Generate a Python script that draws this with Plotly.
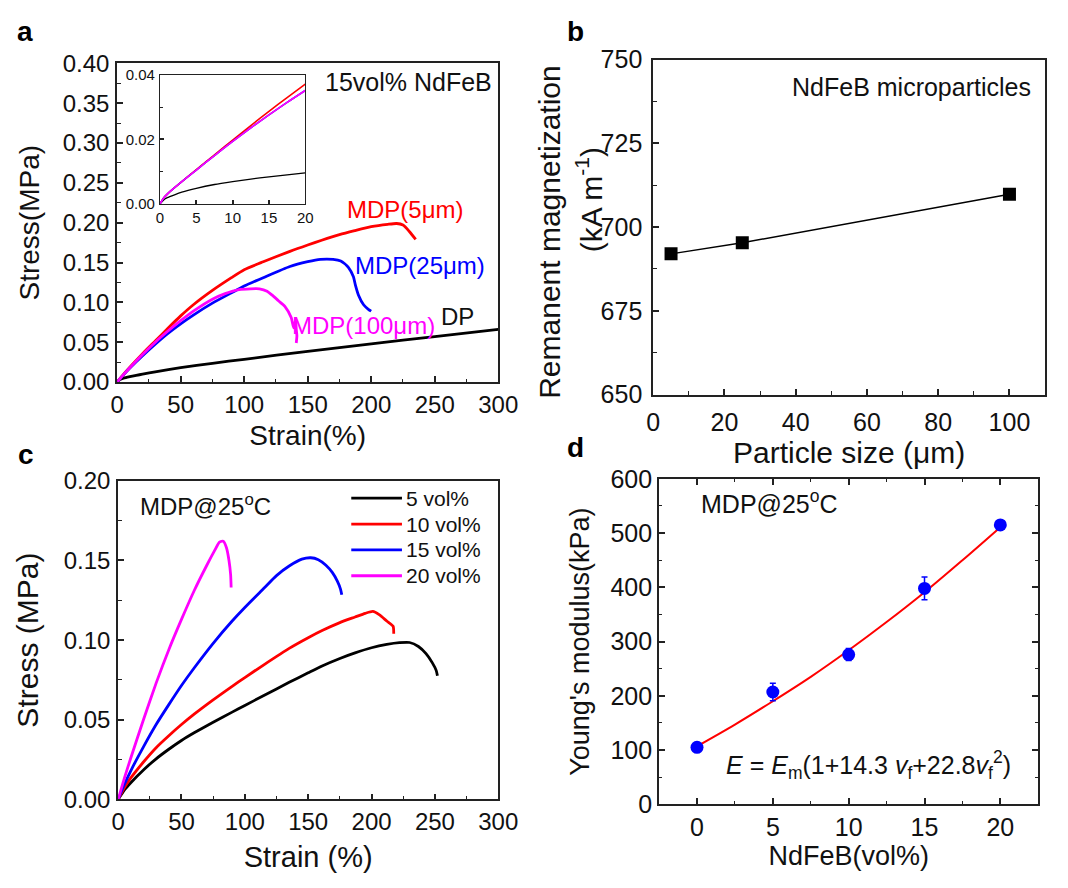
import plotly.graph_objects as go

W, H = 1068, 888
FONT = "Arial, Liberation Sans, sans-serif"

# ---------------- Panel a : stress-strain, 15 vol% NdFeB ----------------
a_dp_strain = [0, 2, 5, 10, 15, 20, 30, 50, 75, 100, 150, 200, 250, 300]
a_dp_stress = [0, 0.0028, 0.0048, 0.0068, 0.0084, 0.0098, 0.0128, 0.018, 0.0235, 0.0285, 0.0385, 0.048, 0.057, 0.066]

a_5_strain = [0, 5, 10, 20, 30, 40, 50, 60, 75, 90, 100, 115, 136, 150, 161, 175, 187, 200, 213, 220, 225, 230, 235]
a_5_stress = [0, 0.0095, 0.0185, 0.0355, 0.0515, 0.0675, 0.083, 0.097, 0.115, 0.131, 0.141, 0.151, 0.164, 0.172, 0.178,
              0.185, 0.190, 0.195, 0.198, 0.199, 0.197, 0.189, 0.179]

a_25_strain = [0, 5, 10, 20, 30, 40, 50, 60, 75, 90, 100, 115, 136, 150, 160, 170, 176, 182, 186, 187.5, 190, 194, 198, 200]
a_25_stress = [0, 0.009, 0.0175, 0.033, 0.0475, 0.061, 0.073, 0.084, 0.099, 0.112, 0.1205, 0.131, 0.145, 0.151, 0.154,
               0.154, 0.152, 0.144, 0.132, 0.122, 0.109, 0.097, 0.091, 0.089]

a_100_strain = [0, 5, 10, 20, 30, 40, 50, 60, 75, 85, 96, 105, 112, 118, 122, 127, 132, 137, 139, 140.5, 141, 141.5, 141]
a_100_stress = [0, 0.0093, 0.018, 0.0345, 0.050, 0.064, 0.077, 0.089, 0.104, 0.111, 0.116, 0.117, 0.117, 0.114, 0.109,
                0.102, 0.095, 0.081, 0.068, 0.078, 0.066, 0.058, 0.049]

# inset (0-20 % strain)
in_strain = [0, 0.5, 1, 2, 3, 5, 7.5, 10, 12.5, 15, 17.5, 20]
in_dp = [0, 0.0012, 0.0019, 0.0028, 0.0036, 0.0048, 0.006, 0.0069, 0.0077, 0.0084, 0.0090, 0.0096]
in_5 = [0, 0.0018, 0.003, 0.005, 0.0069, 0.0106, 0.0152, 0.0198, 0.0243, 0.0287, 0.033, 0.0372]
in_25 = [0, 0.0018, 0.003, 0.005, 0.0069, 0.0105, 0.015, 0.0194, 0.0236, 0.0276, 0.0315, 0.0352]
in_100 = [0, 0.0018, 0.003, 0.005, 0.0069, 0.0105, 0.015, 0.0194, 0.0236, 0.0276, 0.0315, 0.0352]

# ---------------- Panel b : remanent magnetization ----------------
b_size = [5, 25, 100]
b_mag = [692, 695.3, 709.8]

# ---------------- Panel c : stress-strain vs. vol% ----------------
c_5_strain = [0, 5, 10, 20, 30, 40, 50, 60, 75, 90, 100, 115, 135, 150, 161, 175, 187, 200, 212, 222, 230, 237, 243, 248, 251, 252]
c_5_stress = [0, 0.006, 0.0105, 0.0185, 0.0255, 0.0315, 0.037, 0.0418, 0.0485, 0.0548, 0.059, 0.0652, 0.0735, 0.0795,
              0.0838, 0.0885, 0.092, 0.0952, 0.0973, 0.0984, 0.0985, 0.096, 0.0915, 0.0857, 0.081, 0.0776]

c_10_strain = [0, 5, 10, 20, 30, 40, 50, 60, 75, 90, 100, 115, 135, 150, 161, 175, 187, 195, 201, 206, 212, 217, 217.5]
c_10_stress = [0, 0.0075, 0.0135, 0.0235, 0.0325, 0.040, 0.047, 0.0535, 0.0625, 0.071, 0.0765, 0.0845, 0.0948, 0.1015,
               0.106, 0.111, 0.1145, 0.1168, 0.118, 0.116, 0.112, 0.1087, 0.104]

c_15_strain = [0, 5, 10, 20, 30, 40, 50, 60, 75, 90, 100, 115, 125, 135, 145, 152, 158, 164, 169, 173, 175.5, 176.5]
c_15_stress = [0, 0.0095, 0.018, 0.033, 0.047, 0.0595, 0.0715, 0.0825, 0.098, 0.112, 0.1205, 0.1325, 0.1405, 0.1465,
               0.1508, 0.1517, 0.1505, 0.147, 0.1425, 0.137, 0.132, 0.1285]

c_20_strain = [0, 5, 10, 20, 30, 40, 50, 60, 70, 76, 80, 83, 85.5, 87.5, 88.8, 89.2]
c_20_stress = [0, 0.0135, 0.026, 0.050, 0.073, 0.094, 0.113, 0.131, 0.147, 0.156, 0.1615, 0.162, 0.158, 0.150, 0.141, 0.133]

c_labels = ["5 vol%", "10 vol%", "15 vol%", "20 vol%"]

# ---------------- Panel d : Young's modulus ----------------
d_vol = [0, 5, 10, 15, 20]
d_mod = [105, 207, 276, 398, 515]
d_err = [4, 16, 11, 21, 4]
d_fit_vol = [0, 2.5, 5, 7.5, 10, 12.5, 15, 17.5, 20]
d_fit_mod = [107, 147, 190, 235, 284, 336, 391, 450, 511]

RED, BLUE, MAG, BLK = "#ff0000", "#0000ff", "#ff00ff", "#000000"
LW = 2.8

fig = go.Figure()

# panel a
for xs, ys, col in [(a_dp_strain, a_dp_stress, BLK), (a_5_strain, a_5_stress, RED),
                    (a_25_strain, a_25_stress, BLUE), (a_100_strain, a_100_stress, MAG)]:
    fig.add_trace(go.Scatter(x=xs, y=ys, mode="lines", line=dict(color=col, width=LW, shape="spline", smoothing=0.6),
                             xaxis="x", yaxis="y", showlegend=False))
# inset
for ys, col, w in [(in_dp, BLK, 1.3), (in_5, RED, 1.6), (in_25, BLUE, 1.6), (in_100, MAG, 1.6)]:
    fig.add_trace(go.Scatter(x=in_strain, y=ys, mode="lines", line=dict(color=col, width=w, shape="spline", smoothing=0.6),
                             xaxis="x2", yaxis="y2", showlegend=False))
# panel b
fig.add_trace(go.Scatter(x=b_size, y=b_mag, mode="lines+markers", line=dict(color=BLK, width=1.5),
                         marker=dict(symbol="square", size=13, color=BLK), xaxis="x3", yaxis="y3", showlegend=False))
# panel c
c_series = [(c_5_strain, c_5_stress, BLK), (c_10_strain, c_10_stress, RED),
            (c_15_strain, c_15_stress, BLUE), (c_20_strain, c_20_stress, MAG)]
for (xs, ys, col), name in zip(c_series, c_labels):
    fig.add_trace(go.Scatter(x=xs, y=ys, mode="lines", name=name,
                             line=dict(color=col, width=LW, shape="spline", smoothing=0.6),
                             xaxis="x4", yaxis="y4", showlegend=False))
# panel d
fig.add_trace(go.Scatter(x=d_fit_vol, y=d_fit_mod, mode="lines", line=dict(color=RED, width=2, shape="spline"),
                         xaxis="x5", yaxis="y5", showlegend=False))
fig.add_trace(go.Scatter(x=d_vol, y=d_mod, mode="markers", marker=dict(symbol="circle", size=13, color=BLUE),
                         error_y=dict(type="data", array=d_err, color=BLUE, thickness=1.5, width=3),
                         xaxis="x5", yaxis="y5", showlegend=False))


def px(x0, x1):
    return [x0 / W, x1 / W]


def py(y0, y1):
    return [1 - y1 / H, 1 - y0 / H]


def axis(domain, rng, dtick, minor, tsize, anchor, fmt=None, mirror=True, title=None, tfs=28, standoff=10,
         lw=1.8, tl=6, mtl=3.5, tso=0):
    d = dict(domain=domain, range=rng, dtick=dtick, tick0=0, ticks="inside", ticklen=tl, tickwidth=1.5,
             tickcolor="#222", showline=True, linecolor="#222", linewidth=lw, mirror=mirror, showgrid=False,
             zeroline=False, tickfont=dict(size=tsize, color="#111", family=FONT), anchor=anchor,
             ticklabelstandoff=tso)
    if minor:
        d["minor"] = dict(dtick=minor, tick0=0, ticks="inside", ticklen=mtl, tickwidth=1.2, tickcolor="#222",
                          showgrid=False)
    if fmt:
        d["tickformat"] = fmt
    if title:
        d["title"] = dict(text=title, font=dict(size=tfs, color="#111", family=FONT), standoff=standoff)
    return d


layout = dict(
    width=W, height=H, margin=dict(l=0, r=0, t=0, b=0),
    paper_bgcolor="white", plot_bgcolor="white",
    font=dict(family=FONT, color="#111"),
    xaxis=axis(px(113, 504), [0, 300], 50, 25, 24, "y", title="Strain(%)", tfs=28, standoff=9, tso=0),
    yaxis=axis(py(51, 380), [0, 0.4], 0.05, 0.025, 24, "x", fmt=".2f", title="Stress(MPa)", tfs=28, standoff=15, tso=1),
    xaxis2=axis(px(157, 306), [0, 20], 5, None, 15, "y2", lw=1.3, tl=4),
    yaxis2=axis(py(63, 196), [0, 0.04], 0.02, 0.01, 15, "x2", fmt=".2f", lw=1.3, tl=4, mtl=3, tso=1),
    xaxis3=axis(px(663, 1065), [0, 110], 20, 10, 25, "y3", title="Particle size (μm)", tfs=30, standoff=7, tso=4),
    yaxis3=axis(py(47, 393), [650, 750], 25, 12.5, 25, "x3", tso=4),
    xaxis4=axis(px(114, 504), [0, 300], 50, 25, 24, "y4", title="Strain (%)", tfs=29, standoff=13, tso=0),
    yaxis4=axis(py(482, 811), [0, 0.2], 0.05, 0.025, 24, "x4", fmt=".2f", title="Stress (MPa)", tfs=30, standoff=16,
                tso=1),
    xaxis5=axis(px(669, 1058), [-2.5, 22.5], 5, 2.5, 25, "y5", mirror="allticks", title="NdFeB(vol%)", tfs=27,
                standoff=4, tso=0),
    yaxis5=axis(py(480, 816), [0, 600], 100, 50, 25, "x5", mirror="allticks", title="Young's modulus(kPa)", tfs=27,
                standoff=13, tso=0),
    showlegend=False,
)
fig.update_layout(**layout)

ann = []


def note(text, x, y, xr, yr, size, color="#111", **kw):
    ann.append(dict(text=text, x=x, y=y, xref=xr, yref=yr, showarrow=False,
                    font=dict(size=size, color=color, family=FONT), **kw))


note("15vol% NdFeB", 229, 0.377, "x", "y", 25)
note("MDP(5μm)", 226.7, 0.216, "x", "y", 24, RED)
note("MDP(25μm)", 238.7, 0.146, "x", "y", 24, BLUE)
note("MDP(100μm)", 193.6, 0.0705, "x", "y", 24, MAG)
note("DP", 268, 0.0827, "x", "y", 24)
note("NdFeB microparticles", 72.6, 741.8, "x3", "y3", 25)
note("MDP@25<sup>o</sup>C", 69, 0.185, "x4", "y4", 24)
note("MDP@25<sup>o</sup>C", 4.76, 557, "x5", "y5", 25)
note("<i>E</i> = <i>E</i><sub>m</sub>(1+14.3 <i>v</i><sub>f</sub>+22.8<i>v</i><sub>f</sub><sup>2</sup>)", 11.3, 73,
     "x5", "y5", 25)

# panel b y-axis title (two lines, each centred as in the reference)
note("Remanent magnetization", 557 / W, 1 - 225 / H, "paper", "paper", 30, textangle=-90,
     xanchor="center", yanchor="middle")
note("(kA m<sup>-1</sup>)", 597.5 / W, 1 - 192 / H, "paper", "paper", 30, textangle=-90,
     xanchor="center", yanchor="middle")

# panel c legend (line sample + label)
leg_rows = [0.1891, 0.1728, 0.1566, 0.1404]
shapes = []
for (xs, ys, col), lab, yr in zip(c_series, c_labels, leg_rows):
    shapes.append(dict(type="line", xref="x4", yref="y4", x0=184, x1=224, y0=yr, y1=yr,
                       line=dict(color=col, width=LW)))
    note(lab, 225.5, yr, "x4", "y4", 21, xanchor="left", yanchor="middle")

for lab, x, y in [("a", 18.5, 18), ("b", 583.5, 18), ("c", 20, 455), ("d", 583.5, 448)]:
    note("<b>%s</b>" % lab, x / W, 1 - y / H, "paper", "paper", 28, "#000", xanchor="center", yanchor="middle")

fig.update_layout(annotations=ann, shapes=shapes)
fig.write_html("out.html")
